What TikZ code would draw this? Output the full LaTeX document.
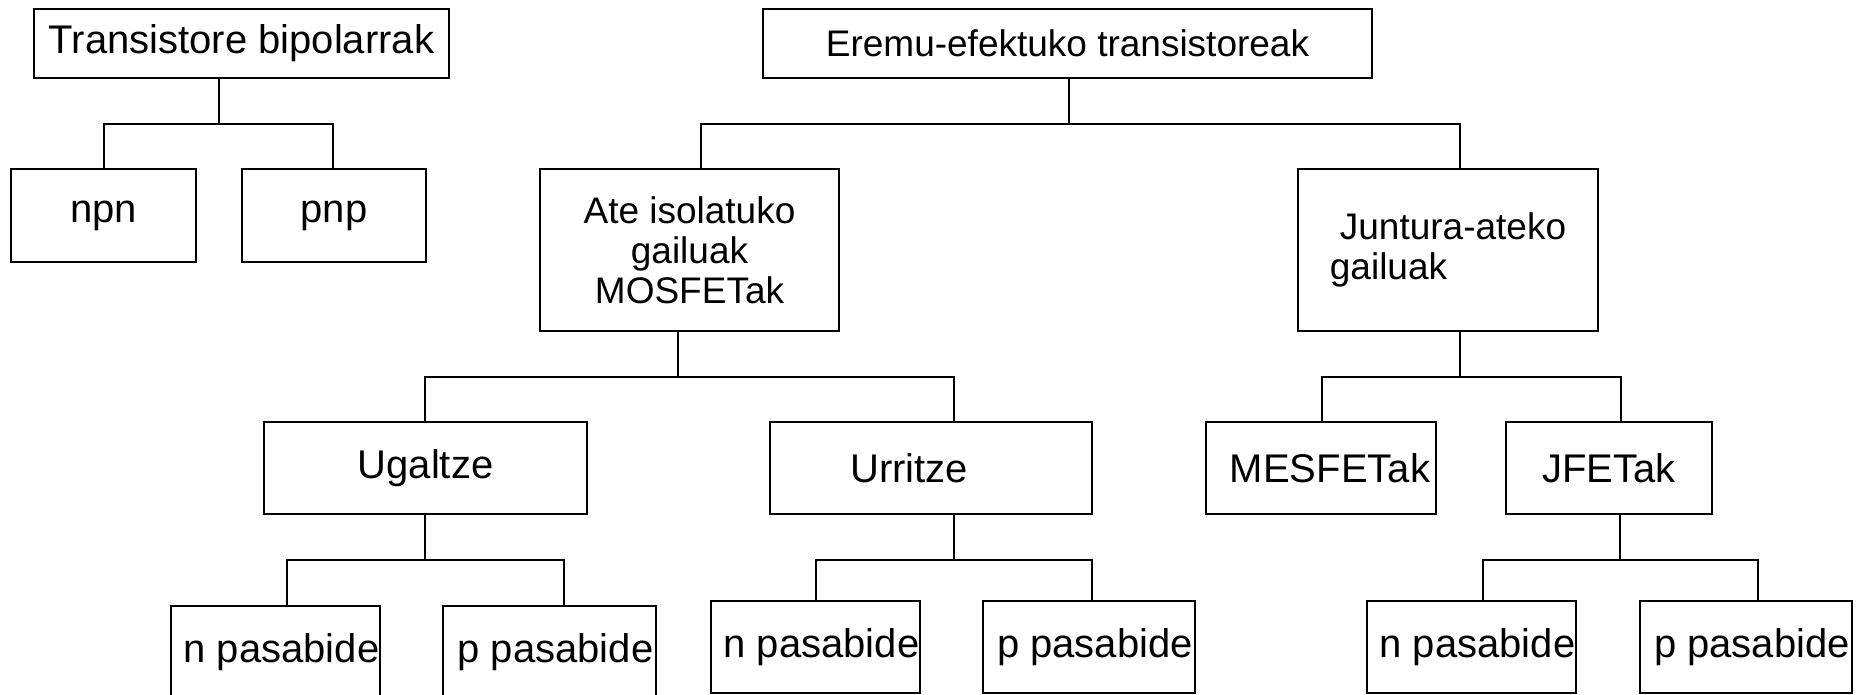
\documentclass[tikz,border=0pt]{standalone}
\usepackage{fontspec}
\setmainfont{Liberation Sans}
\usetikzlibrary{calc}

\tikzset{
  box/.style={draw,line width=2.6pt,rectangle,inner sep=0pt,align=center,font=\fontsize{40}{44}\selectfont},
  boxs/.style={box,font=\fontsize{37}{40}\selectfont},
  link/.style={line width=2pt},
}

\begin{document}
\begin{tikzpicture}[x=1pt,y=-1pt]
\useasboundingbox (0,0) rectangle (1869,695);
\clip (0,0) rectangle (1869,695);
% top row
\node[box,minimum width=415,minimum height=69] (tb) at (241.5,43.5) {Transistore bipolarrak};
\node[boxs,minimum width=609,minimum height=69] (eft) at (1067.5,43.5) {Eremu-efektuko transistoreak};
% second row
\node[box,minimum width=185,minimum height=93] (npn) at (103.5,215.5) {npn};
\node[box,minimum width=184,minimum height=93] (pnp) at (334,215.5) {pnp};
\node[boxs,minimum width=299,minimum height=162] (ate) at (689.5,250) {Ate isolatuko\\gailuak\\MOSFETak};
\node[boxs,align=left,minimum width=300,minimum height=162] (junt) at (1448,250) {\hspace*{10pt}Juntura-ateko\\gailuak};
% third row
\node[box,minimum width=323,minimum height=92] (ugal) at (425.5,468) {Ugaltze};
\node[box,minimum width=322,minimum height=92] (urri) at (931,468) {Urritze\hspace*{44pt}};
\node[box,minimum width=230,minimum height=92] (mes) at (1321,468) {\hspace*{18pt}MESFETak};
\node[box,minimum width=206,minimum height=92] (jfet) at (1609,468) {JFETak};
% channels (the ones under Ugaltze run past the bottom edge)
\node[box,minimum width=209,minimum height=92] (un) at (275.5,652) {\hspace*{12pt}n pasabide};
\node[box,minimum width=213,minimum height=92] (up) at (549.5,652) {\hspace*{12pt}p pasabide};
\node[box,minimum width=209,minimum height=92] (rn) at (815.5,647) {\hspace*{12pt}n pasabide};
\node[box,minimum width=212,minimum height=92] (rp) at (1089,647) {\hspace*{12pt}p pasabide};
\node[box,minimum width=209,minimum height=92] (jn) at (1471.5,647) {\hspace*{12pt}n pasabide};
\node[box,minimum width=212,minimum height=92] (jp) at (1746,647) {\hspace*{12pt}p pasabide};
% tree connectors: parent/child/stem offset/drop offset
\foreach \p/\c/\a/\b in {tb/npn/-22.5/0.5, tb/pnp/-22.5/-1, eft/ate/1.5/11.5, eft/junt/1.5/12,
    ate/ugal/-11.5/-0.5, ate/urri/-11.5/23, junt/mes/12/1, junt/jfet/12/12,
    ugal/un/-0.5/11.5, ugal/up/-0.5/14.5, urri/rn/23/0.5, urri/rp/23/3, jfet/jn/11/11.5, jfet/jp/11/12}
  {\draw[link] ($(\p.south)+(\a,0)$) -- ++(0,45) -| ($(\c.north)+(\b,0)$);}
\end{tikzpicture}
\end{document}
